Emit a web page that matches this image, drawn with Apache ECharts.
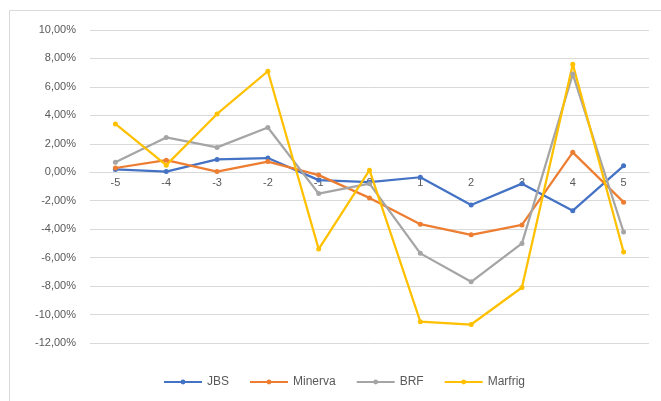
<!DOCTYPE html>
<html><head><meta charset="utf-8">
<script src="https://cdn.jsdelivr.net/npm/echarts@6/dist/echarts.min.js"></script>
<style>html,body{margin:0;padding:0;background:#fff}#c{width:661px;height:401px}</style>
</head><body><div id="c"></div>
<script>
const categories = ['-5','-4','-3','-2','-1','0','1','2','3','4','5'];
const jbs     = [0.2, 0.05, 0.9, 1.0, -0.55, -0.7, -0.35, -2.3, -0.8, -2.7, 0.45];
const minerva = [0.3, 0.85, 0.05, 0.75, -0.2, -1.8, -3.65, -4.4, -3.7, 1.4, -2.1];
const brf     = [0.7, 2.45, 1.75, 3.15, -1.5, -0.8, -5.7, -7.7, -5.0, 6.9, -4.2];
const marfrig = [3.4, 0.5, 4.1, 7.1, -5.4, 0.15, -10.5, -10.7, -8.1, 7.6, -5.6];
const yTicks = { min: -12, max: 10, interval: 2 };

const gridTop = 30, gridBottom = 58, H = 401;
const plotH = H - gridTop - gridBottom;
const zeroOffset = -plotH * (0 - yTicks.min) / (yTicks.max - yTicks.min);

const chart = echarts.init(document.getElementById('c'));
const fmt = v => v.toFixed(2).replace('.', ',') + '%';
function s(name, data, color) {
  return { name, type: 'line', data, symbol: 'circle', symbolSize: 5,
    lineStyle: { width: 2.25, color }, itemStyle: { color } };
}
chart.setOption({
  animation: false,
  textStyle: { fontFamily: 'Liberation Sans, Arial, sans-serif' },
  graphic: [{ type: 'rect', shape: { x: 9.5, y: 10.5, width: 660, height: 400 },
    style: { fill: 'none', stroke: '#D9D9D9', lineWidth: 1 } }],
  grid: { left: 90, right: 12, top: gridTop, bottom: gridBottom },
  xAxis: { type: 'category', data: categories, boundaryGap: true,
    offset: zeroOffset,
    axisLine: { onZero: false, lineStyle: { color: '#D9D9D9' } },
    axisTick: { show: false },
    axisLabel: { color: '#595959', fontSize: 11, margin: 5 } },
  yAxis: { type: 'value', min: yTicks.min, max: yTicks.max, interval: yTicks.interval,
    axisLine: { show: false }, axisTick: { show: false },
    splitLine: { lineStyle: { color: '#D9D9D9' } },
    axisLabel: { color: '#595959', fontSize: 11, margin: 14, formatter: fmt } },
  legend: { left: 158, top: 371, itemWidth: 38, itemHeight: 6, itemGap: 20,
    textStyle: { color: '#595959', fontSize: 12 },
    data: ['JBS', 'Minerva', 'BRF', 'Marfrig'] },
  series: [
    s('JBS', jbs, '#4472C4'),
    s('Minerva', minerva, '#ED7D31'),
    s('BRF', brf, '#A5A5A5'),
    s('Marfrig', marfrig, '#FFC000')
  ]
});
</script></body></html>
